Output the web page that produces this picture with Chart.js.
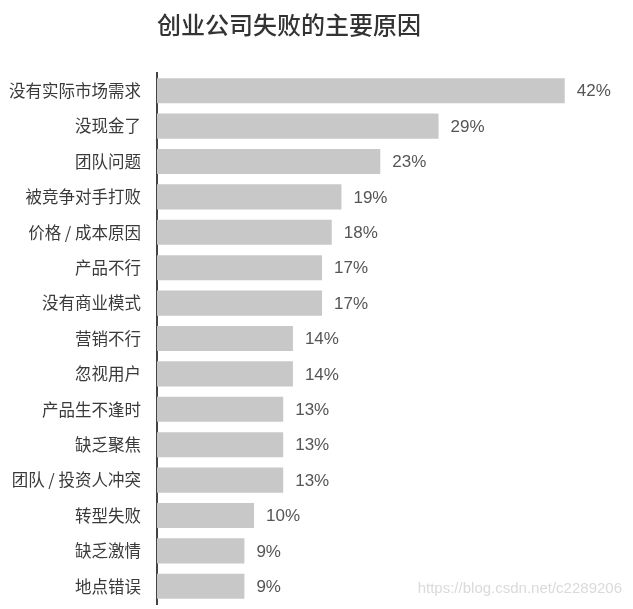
<!DOCTYPE html>
<html>
<head>
<meta charset="utf-8">
<script src="https://cdn.jsdelivr.net/npm/chart.js@4/dist/chart.umd.min.js"></script>
<style>
  body { margin: 0; background: #fff; }
  #wrap { width: 633px; height: 609px; }
</style>
</head>
<body>
<div id="wrap"><canvas id="reasons" width="633" height="609"></canvas></div>
<script>
const categories = ['没有实际市场需求', '没现金了', '团队问题', '被竞争对手打败', '价格 / 成本原因',
  '产品不行', '没有商业模式', '营销不行', '忽视用户', '产品生不逢时', '缺乏聚焦',
  '团队 / 投资人冲突', '转型失败', '缺乏激情', '地点错误'];
const percents = [42, 29, 23, 19, 18, 17, 17, 14, 14, 13, 13, 13, 10, 9, 9];
const titleText = '创业公司失败的主要原因';
const watermark = 'https://blog.csdn.net/c2289206';

const CJK = '"Noto Sans CJK SC", "Noto Sans", sans-serif';

// title, value labels and watermark
const extras = {
  id: 'extras',
  afterDatasetsDraw(chart) {
    const ctx = chart.ctx;
    ctx.save();

    ctx.fillStyle = '#333333';
    ctx.font = '500 24px ' + CJK;
    ctx.textAlign = 'center';
    ctx.textBaseline = 'middle';
    ctx.fillText(titleText, 289, 25);

    const meta = chart.getDatasetMeta(0);
    ctx.font = '17px "Liberation Sans", Arial, sans-serif';
    ctx.fillStyle = '#555555';
    ctx.textAlign = 'left';
    meta.data.forEach((bar, i) => {
      ctx.fillText(percents[i] + '%', bar.x + 12, bar.y + 1);
    });

    ctx.font = '15px "Liberation Sans", Arial, sans-serif';
    ctx.fillStyle = '#dadada';
    ctx.textAlign = 'right';
    ctx.fillText(watermark, 622, 589);
    ctx.restore();
  }
};

new Chart(document.getElementById('reasons').getContext('2d'), {
  type: 'bar',
  data: {
    labels: categories,
    datasets: [{
      data: percents,
      backgroundColor: '#c8c8c8',
      borderWidth: 0,
      barPercentage: 0.71,
      categoryPercentage: 1
    }]
  },
  options: {
    indexAxis: 'y',
    responsive: false,
    animation: false,
    layout: { padding: { top: 73, bottom: 5, right: 10, left: 0 } },
    plugins: {
      legend: { display: false },
      tooltip: { enabled: false }
    },
    scales: {
      x: { display: false, min: 0, max: 48 },
      y: {
        afterFit(scale) {
          scale.width = 157;
          // don't let label padding push the plot area up
          scale.paddingTop = 0;
          scale.paddingBottom = 0;
        },
        grid: { display: false, drawTicks: false },
        border: { display: true, color: '#444444', width: 2 },
        ticks: {
          padding: 16,
          color: '#3a3a3a',
          font: { family: CJK, size: 16.5 }
        }
      }
    }
  },
  plugins: [extras]
});
</script>
</body>
</html>
